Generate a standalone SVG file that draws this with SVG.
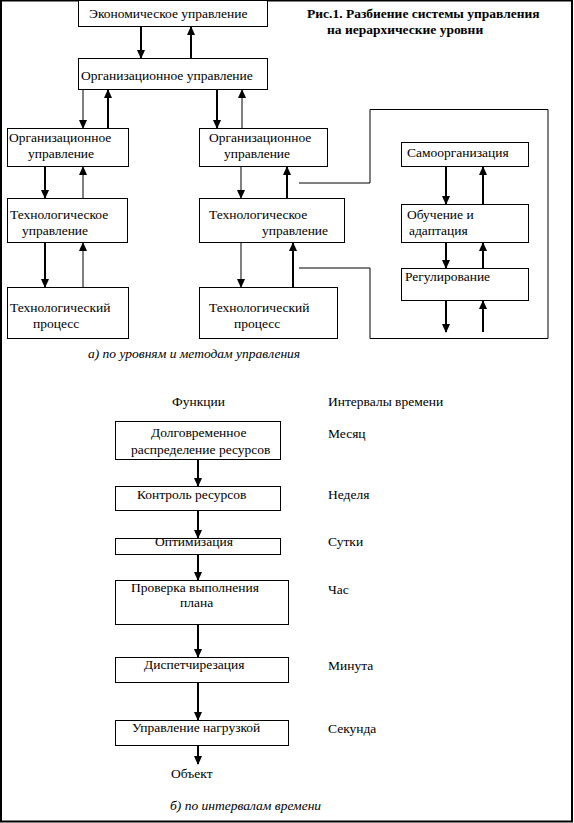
<svg xmlns="http://www.w3.org/2000/svg" width="574" height="823" viewBox="0 0 574 823" font-family="'Liberation Serif', 'DejaVu Serif', serif">
<defs>
<marker id="ad" markerUnits="userSpaceOnUse" markerWidth="8" markerHeight="9" refX="4" refY="8" orient="0" viewBox="0 0 8 9">
<path d="M0,0 L8,0 L4,9 Z" fill="#000"/>
</marker>
<marker id="au" markerUnits="userSpaceOnUse" markerWidth="8" markerHeight="9" refX="4" refY="1" orient="0" viewBox="0 0 8 9">
<path d="M0,9 L8,9 L4,0 Z" fill="#000"/>
</marker>
</defs>
<style>
rect.b{fill:#fff;stroke:#000;stroke-width:1}
text{font-family:'Liberation Serif',serif;font-size:13.5px;fill:#000}
.t{font-weight:bold}
.i{font-style:italic}
.k{stroke:#000;stroke-width:2;fill:none}
.n{stroke:#000;stroke-width:1;fill:none}
.dn{marker-end:url(#ad)}
.up{marker-end:url(#au)}
</style>
<rect x="1" y="0.5" width="571" height="821" fill="#fff" stroke="#000" stroke-width="2"/>

<g id="connectors">
<line class="k dn" x1="141" y1="26" x2="141" y2="58"/>
<line class="k up" x1="191" y1="58" x2="191" y2="27"/>
<line class="n dn" x1="83" y1="89" x2="83" y2="128"/>
<line class="k up" x1="108" y1="128" x2="108" y2="90"/>
<line class="k dn" x1="217" y1="89" x2="217" y2="128"/>
<line class="n up" x1="242" y1="128" x2="242" y2="90"/>
<line class="k dn" x1="45" y1="166" x2="45" y2="198"/>
<line class="n up" x1="83" y1="198" x2="83" y2="167"/>
<line class="k dn" x1="45" y1="242" x2="45" y2="287"/>
<line class="n up" x1="83" y1="287" x2="83" y2="243"/>
<line class="n dn" x1="241" y1="166" x2="241" y2="198"/>
<line class="k up" x1="287" y1="198" x2="287" y2="167"/>
<line class="n dn" x1="241" y1="242" x2="241" y2="287"/>
<line class="k up" x1="293" y1="287" x2="293" y2="243"/>
<polyline class="n" points="299,183 370,183 370,109.5 548,109.5 548,338.5 370,338.5 370,268 299,268"/>
<line class="k dn" x1="446" y1="166" x2="446" y2="204"/>
<line class="k up" x1="483" y1="204" x2="483" y2="167"/>
<line class="k dn" x1="446" y1="242" x2="446" y2="268"/>
<line class="k up" x1="483" y1="268" x2="483" y2="243"/>
<line class="k dn" x1="446" y1="300" x2="446" y2="332"/>
<line class="k up" x1="483" y1="332" x2="483" y2="301"/>
<line class="k dn" x1="198" y1="459" x2="198" y2="486"/>
<line class="k dn" x1="198" y1="510" x2="198" y2="538"/>
<line class="k dn" x1="198" y1="554" x2="198" y2="580"/>
<line class="k dn" x1="198" y1="624" x2="198" y2="657"/>
<line class="k dn" x1="198" y1="682" x2="198" y2="720"/>
<line class="k dn" x1="198" y1="745" x2="198" y2="764"/>
</g>

<g id="title">
<text class="t" x="307" y="18">Рис.1. Разбиение системы управления</text>
<text class="t" x="327" y="34">на иерархические уровни</text>
</g>

<g id="n-econ"><rect class="b" x="78.5" y="0.5" width="189" height="26"/><text x="89" y="18">Экономическое управление</text></g>
<g id="n-org-top"><rect class="b" x="78.5" y="58.5" width="189" height="31"/><text x="81" y="80">Организационное управление</text></g>
<g id="n-org-l"><rect class="b" x="7.5" y="128.5" width="121" height="38"/><text x="9" y="142">Организационное</text><text x="28" y="158">управление</text></g>
<g id="n-tech-l"><rect class="b" x="7.5" y="198.5" width="120" height="44"/><text x="10" y="219">Технологическое</text><text x="22" y="235">управление</text></g>
<g id="n-proc-l"><rect class="b" x="7.5" y="287.5" width="121" height="51"/><text x="10" y="312">Технологический</text><text x="33" y="328">процесс</text></g>
<g id="n-org-m"><rect class="b" x="199.5" y="128.5" width="128" height="38"/><text x="209" y="142">Организационное</text><text x="224" y="158">управление</text></g>
<g id="n-tech-m"><rect class="b" x="199.5" y="198.5" width="145" height="44"/><text x="209" y="219">Технологическое</text><text x="262" y="235">управление</text></g>
<g id="n-proc-m"><rect class="b" x="199.5" y="287.5" width="138" height="51"/><text x="209" y="312">Технологический</text><text x="234" y="328">процесс</text></g>
<g id="n-self"><rect class="b" x="401.5" y="142.5" width="127" height="24"/><text x="407" y="157">Самоорганизация</text></g>
<g id="n-learn"><rect class="b" x="401.5" y="204.5" width="127" height="38"/><text x="407" y="219">Обучение и</text><text x="409" y="235">адаптация</text></g>
<g id="n-reg"><rect class="b" x="401.5" y="268.5" width="127" height="32"/><text x="405" y="281">Регулирование</text></g>
<text class="i" x="88" y="358">а) по уровням и методам управления</text>

<text x="172" y="406">Функции</text>
<text x="328" y="406">Интервалы времени</text>
<g id="n-f1"><rect class="b" x="115.5" y="421.5" width="165" height="38"/><text x="151" y="437">Долговременное</text><text x="131" y="454">распределение ресурсов</text></g>
<g id="n-f2"><rect class="b" x="115.5" y="486.5" width="165" height="24"/><text x="137" y="499">Контроль ресурсов</text></g>
<g id="n-f3"><rect class="b" x="115.5" y="538.5" width="165" height="16"/><text x="155" y="546">Оптимизация</text></g>
<g id="n-f4"><rect class="b" x="115.5" y="580.5" width="173" height="44"/><text x="131" y="592">Проверка выполнения</text><text x="180" y="607">плана</text></g>
<g id="n-f5"><rect class="b" x="115.5" y="657.5" width="173" height="25"/><text x="144" y="669">Диспетчирезация</text></g>
<g id="n-f6"><rect class="b" x="115.5" y="720.5" width="173" height="25"/><text x="132" y="732">Управление нагрузкой</text></g>
<g id="n-obj"><text x="171" y="778">Объект</text></g>
<text x="328" y="438">Месяц</text>
<text x="328" y="499">Неделя</text>
<text x="328" y="546">Сутки</text>
<text x="328" y="594">Час</text>
<text x="328" y="670">Минута</text>
<text x="328" y="733">Секунда</text>
<text class="i" x="170" y="810">б) по интервалам времени</text>
</svg>
